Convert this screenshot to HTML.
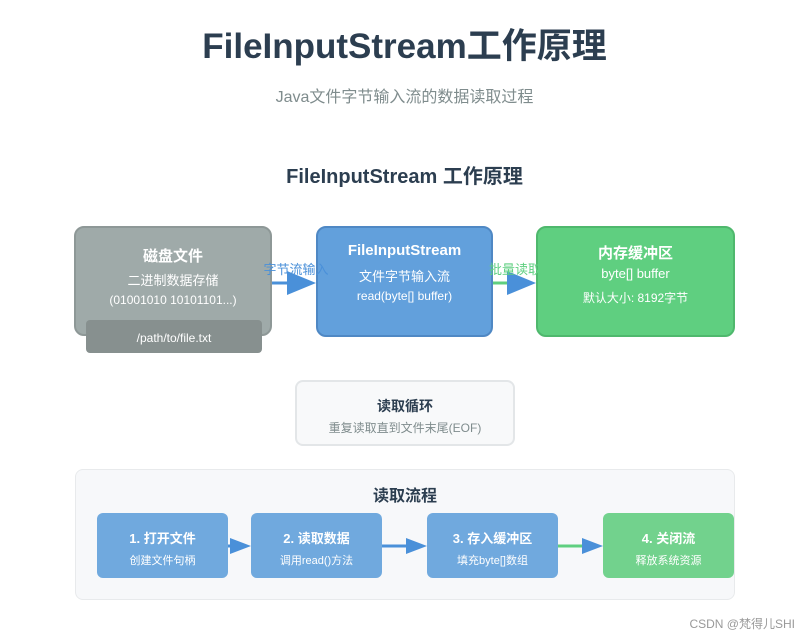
<!DOCTYPE html>
<html><head><meta charset="utf-8"><style>
body{margin:0;width:799px;height:637px;background:#fff;font-family:"Liberation Sans","Noto Sans CJK SC",sans-serif;position:relative;overflow:hidden}
.a{position:absolute;box-sizing:border-box;text-align:center}
.b{border-radius:10px;color:#fff}
.t{position:absolute;left:0;right:0;text-align:center}
</style></head><body>
<div class="a" style="left:0;width:809px;top:18px;font-size:35px;font-weight:bold;color:#2c3e50">FileInputStream工作原理</div>
<div class="a" style="left:0;width:809px;top:83px;font-size:16px;color:#7f8c8d">Java文件字节输入流的数据读取过程</div>
<div class="a" style="left:0;width:809px;top:160px;font-size:20px;font-weight:bold;color:#2c3e50">FileInputStream 工作原理</div>

<div class="a b" style="left:74px;top:226px;width:198px;height:110px;background:#9faaa9;border:2px solid #8e9897">
<div class="t" style="top:17px;font-size:15px;font-weight:bold">磁盘文件</div>
<div class="t" style="top:42px;font-size:13px">二进制数据存储</div>
<div class="t" style="top:65px;font-size:12px">(01001010 10101101...)</div></div>
<div class="a" style="left:86px;top:320px;width:176px;height:33px;background:#87908f;border-radius:4px;color:#fff;font-size:12px;padding-top:11px">/path/to/file.txt</div>

<div class="a b" style="left:316px;top:226px;width:177px;height:111px;background:#62a0dc;border:2px solid #4f88c4">
<div class="t" style="top:14px;font-size:15px;font-weight:bold">FileInputStream</div>
<div class="t" style="top:38px;font-size:13px">文件字节输入流</div>
<div class="t" style="top:61px;font-size:12px">read(byte[] buffer)</div></div>

<div class="a b" style="left:536px;top:226px;width:199px;height:111px;background:#5fcf80;border:2px solid #4fb86d">
<div class="t" style="top:14px;font-size:15px;font-weight:bold">内存缓冲区</div>
<div class="t" style="top:38px;font-size:13px">byte[] buffer</div>
<div class="t" style="top:61px;font-size:12px">默认大小: 8192字节</div></div>

<div class="a" style="left:295px;top:380px;width:220px;height:66px;background:#f8f9fa;border:2px solid #e3e6e8;border-radius:8px">
<div class="t" style="top:14px;font-size:14px;font-weight:bold;color:#2c3e50">读取循环</div>
<div class="t" style="top:37px;font-size:12px;color:#7f8c8d">重复读取直到文件末尾(EOF)</div></div>

<div class="a" style="left:75px;top:469px;width:660px;height:131px;background:#f7f8fa;border:1px solid #e8eaec;border-radius:8px">
<div class="t" style="top:12px;font-size:16px;font-weight:bold;color:#2c3e50">读取流程</div></div>

<div class="a b" style="left:97px;top:513px;width:131px;height:65px;background:#70a9de;border-radius:6px"><div class="t" style="top:15px;font-size:13px;font-weight:bold">1. 打开文件</div><div class="t" style="top:39px;font-size:11px">创建文件句柄</div></div>
<div class="a b" style="left:251px;top:513px;width:131px;height:65px;background:#70a9de;border-radius:6px"><div class="t" style="top:15px;font-size:13px;font-weight:bold">2. 读取数据</div><div class="t" style="top:39px;font-size:11px">调用read()方法</div></div>
<div class="a b" style="left:427px;top:513px;width:131px;height:65px;background:#70a9de;border-radius:6px"><div class="t" style="top:15px;font-size:13px;font-weight:bold">3. 存入缓冲区</div><div class="t" style="top:39px;font-size:11px">填充byte[]数组</div></div>
<div class="a b" style="left:603px;top:513px;width:131px;height:65px;background:#72d28d;border-radius:6px"><div class="t" style="top:15px;font-size:13px;font-weight:bold">4. 关闭流</div><div class="t" style="top:39px;font-size:11px">释放系统资源</div></div>

<svg class="a" style="left:0;top:0;z-index:5" width="799" height="637">
<line x1="272" y1="283" x2="290" y2="283" stroke="#4a90d9" stroke-width="3"/>
<polygon points="287,271 316,283 287,295" fill="#4a90d9"/>
<line x1="493" y1="283" x2="510" y2="283" stroke="#5fcf80" stroke-width="3"/>
<polygon points="507,271 536,283 507,295" fill="#4a90d9"/>
<line x1="228" y1="546" x2="234" y2="546" stroke="#4a90d9" stroke-width="3"/>
<polygon points="230,538 251,546 230,554" fill="#4a90d9"/>
<line x1="382" y1="546" x2="410" y2="546" stroke="#4a90d9" stroke-width="3"/>
<polygon points="406,538 427,546 406,554" fill="#4a90d9"/>
<line x1="558" y1="546" x2="586" y2="546" stroke="#5fcf80" stroke-width="3"/>
<polygon points="582,538 603,546 582,554" fill="#4a90d9"/>
</svg>
<div class="a" style="left:256px;width:80px;top:259px;font-size:13px;color:#4a90d9;z-index:6">字节流输入</div>
<div class="a" style="left:480px;width:70px;top:259px;font-size:13px;color:#5fcf80;z-index:6">批量读取</div>

<div class="a" style="left:660px;top:615px;width:135px;font-size:12px;color:#999;text-align:right">CSDN @梵得儿SHI</div>
</body></html>
